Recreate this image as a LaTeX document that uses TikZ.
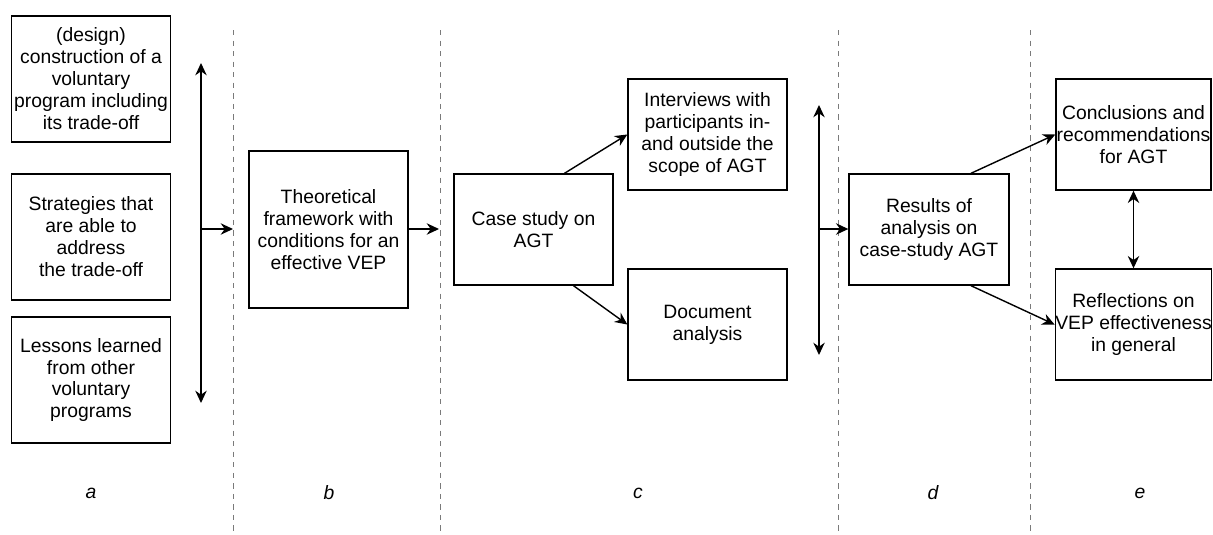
\documentclass[tikz,border=0pt]{standalone}
\usepackage{fontspec}
\setmainfont{Liberation Sans}
\usetikzlibrary{arrows.meta}
\definecolor{VEPGrid}{HTML}{7A7A7A}

\begin{document}
\begin{tikzpicture}[x=0.02cm,y=-0.02cm,
  box/.style={draw,line width=0.8pt,align=center,inner sep=0pt,
    minimum width=3.18cm,minimum height=2.22cm,font=\fontsize{11}{12.5}\selectfont},
  flow/.style={line width=0.8pt,-{Stealth[length=7pt,width=6.5pt]}},
  both/.style={line width=0.8pt,{Stealth[length=7pt,width=6.5pt]}-{Stealth[length=7pt,width=6.5pt]}},
  divider/.style={VEPGrid,line width=0.5pt,dash pattern=on 3pt off 3pt},
  phase/.style={font=\fontsize{11}{12}\selectfont\itshape}]
\path[use as bounding box] (0,0) rectangle (1213,534);
% phase dividers
\draw[divider] (233,30) -- (233,534);
\draw[divider] (440,30) -- (440,534);
\draw[divider] (838,30) -- (838,534);
\draw[divider] (1030,30) -- (1030,534);
% phase a
\node[box,minimum height=2.52cm] (design) at (91,79) {(design)\\construction of a\\voluntary\\program including\\its trade-off};
\node[box,minimum height=2.52cm] (strategies) at (91,237) {Strategies that\\are able to\\address\\the trade-off};
\node[box,minimum height=2.52cm] (lessons) at (91,380) {Lessons learned\\from other\\voluntary\\programs};
\coordinate (aTop) at (201,63);
\coordinate (aBot) at (201,403);
\coordinate (aMid) at (201,229);
\coordinate (aEnd) at (233,229);
\draw[both] (aTop) -- (aBot);
\draw[flow] (aMid) -- (aEnd);
% phase b
\node[box,minimum height=3.14cm] (theory) at (328.5,229.5) {Theoretical\\framework with\\conditions for an\\effective VEP};
\coordinate (bEnd) at (439,229);
\draw[flow] (theory.east |- bEnd) -- (bEnd);
% phase c
\node[box] (case) at (533.5,229.5) {Case study on\\AGT};
\node[box] (interviews) at (707.5,134.5) {Interviews with\\participants in-\\and outside the\\scope of AGT};
\node[box] (document) at (707.5,324.5) {Document\\analysis};
\draw[flow] ([xshift=0.62cm]case.north) -- (interviews.west);
\draw[flow] ([xshift=0.8cm]case.south) -- (document.west);
\coordinate (cTop) at (819,105);
\coordinate (cBot) at (819,355);
\coordinate (cMid) at (819,229);
\draw[both] (cTop) -- (cBot);
% phase d
\node[box,minimum width=3.2cm] (results) at (929,229.5) {Results of\\analysis on\\case-study AGT};
\draw[flow] (cMid) -- (results.west |- cMid);
% phase e
\node[box,minimum width=3.1cm] (conclusions) at (1133.5,134.5) {Conclusions and\\recommendations\\for AGT};
\node[box,minimum width=3.1cm] (reflections) at (1133.5,324.5) {Reflections on\\VEP effectiveness\\in general};
\draw[flow] ([xshift=0.84cm]results.north) -- (conclusions.west);
\draw[flow] ([xshift=0.84cm]results.south) -- (reflections.west);
\draw[both] (conclusions.south) -- (reflections.north);
% phase labels
\node[phase] (la) at (91,493) {a};
\node[phase] (lb) at (329,493) {b};
\node[phase] (lc) at (638,493) {c};
\node[phase] (ld) at (933,493) {d};
\node[phase] (le) at (1140,493) {e};
\end{tikzpicture}
\end{document}
